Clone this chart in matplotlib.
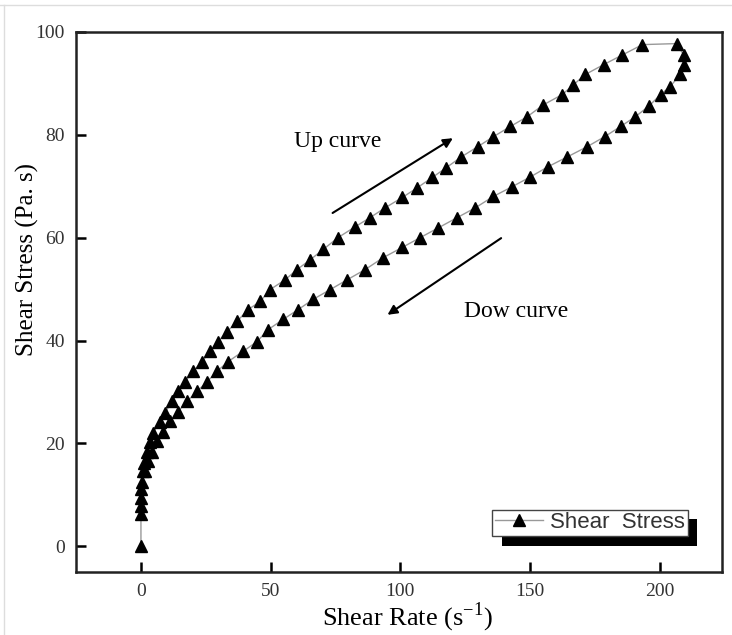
import matplotlib
matplotlib.use('Agg')
import matplotlib.pyplot as plt
import matplotlib.patheffects as pe
from matplotlib.lines import Line2D

# shear rate (1/s) and shear stress, up curve then down curve
rate = [0, 0, 0, 0, 0, 0.4, 0.8, 1.2, 2.3, 3.5, 4.6, 7.3, 9.3, 12, 14.3, 17, 20,
        23.6, 26.6, 29.7, 33.2, 37, 41.3, 46, 49.8, 55.6, 60.2, 65.3, 70.3, 76,
        82.6, 88.4, 94.2, 100.8, 106.6, 112.4, 117.8, 123.6, 130, 135.9, 142.5,
        149, 155.2, 162.5, 166.8, 171.4, 178.4, 185.7, 193.4, 206.6,
        209.3, 209.3, 208, 204, 200.4, 196, 190.7, 185, 178.8, 172.2, 164.5,
        157.1, 150.2, 143.2, 135.9, 129, 122, 114.7, 107.7, 100.8, 93.4, 86.5,
        79.5, 73, 66.4, 60.6, 54.8, 49, 44.8, 39.4, 33.6, 29.3, 25.5, 21.6,
        17.8, 14.3, 11.2, 8.5, 6.2, 4.2, 2.7, 1.5]
stress = [0, 6.2, 7.8, 9.5, 11.1, 12.6, 14.6, 16.3, 18.3, 20.2, 22.1, 24.1, 26,
          28.2, 30.1, 32, 34, 35.9, 37.9, 39.8, 41.7, 43.7, 46, 47.6, 49.9, 51.8,
          53.8, 55.7, 57.7, 60, 62.1, 63.9, 65.8, 67.8, 69.7, 71.7, 73.6, 75.7,
          77.7, 79.6, 81.6, 83.5, 85.8, 87.8, 89.7, 91.7, 93.6, 95.5, 97.5, 97.7,
          95.5, 93.6, 91.7, 89.3, 87.8, 85.6, 83.5, 81.6, 79.6, 77.7, 75.7,
          73.8, 71.8, 69.9, 68, 65.8, 63.9, 61.9, 60, 58.1, 56.1, 53.8, 51.8,
          49.9, 48, 46, 44.1, 42.1, 39.8, 37.9, 35.9, 34, 32, 30.1, 28.2, 26.2,
          24.3, 22.3, 20.4, 18.4, 16.5, 14.6]

xticks = [0, 50, 100, 150, 200]
yticks = [0, 20, 40, 60, 80, 100]

serif = ['Liberation Serif', 'DejaVu Serif']
plt.rcParams['mathtext.fontset'] = 'custom'
plt.rcParams['mathtext.rm'] = 'Liberation Serif'

fig = plt.figure(figsize=(7.32, 6.35), dpi=100)
ax = fig.add_axes([0.104, 0.099, 0.882, 0.851])

ax.plot(rate, stress, color='#999999', lw=1, marker='^', ms=8,
        mfc='black', mec='black', label='Shear  Stress')

# arrows and notes
ax.annotate('', xy=(121.2, 79.6), xytext=(73, 64.5),
            arrowprops=dict(arrowstyle='-|>', color='black', lw=1.5,
                            mutation_scale=14))
ax.annotate('', xy=(94.2, 44.7), xytext=(139.8, 60.2),
            arrowprops=dict(arrowstyle='-|>', color='black', lw=1.5,
                            mutation_scale=14))
ax.text(75.7, 78.6, 'Up curve', fontsize=17, family=serif,
        ha='center', va='center')
ax.text(144.8, 45.6, 'Dow curve', fontsize=17, family=serif,
        ha='center', va='center')

ax.set_xlim(-25, 224)
ax.set_ylim(-5, 100)
ax.set_xticks(xticks)
ax.set_yticks(yticks)
ax.tick_params(direction='in', length=7, width=1.8, labelsize=14,
               labelcolor='#333333', pad=8)
for lab in ax.get_xticklabels() + ax.get_yticklabels():
    lab.set_family(serif)
for s in ax.spines.values():
    s.set_linewidth(1.8)
    s.set_color('#222222')

ax.set_xlabel('Shear Rate (s$^{\\mathrm{-1}}$)', fontsize=19, family=serif)
ax.set_ylabel('Shear Stress (Pa. s)', fontsize=18, family=serif)
ax.xaxis.set_label_coords(0.513, -0.053)
ax.yaxis.set_label_coords(-0.058, 0.578)

leg = ax.legend(loc='lower left', bbox_to_anchor=(0.644, 0.067),
                borderaxespad=0, fancybox=False,
                handlelength=2.2, handletextpad=0.3, borderpad=0.12,
                prop={'family': ['Liberation Sans', 'DejaVu Sans'], 'size': 16})
leg.get_frame().set_edgecolor('#444444')
leg.get_frame().set_linewidth(1)
leg.get_frame().set_alpha(1)
leg.legendPatch.set_path_effects([
    pe.SimplePatchShadow(offset=(7, -7), shadow_rgbFace='black', alpha=1),
    pe.Normal()])
for t in leg.get_texts():
    t.set_color('#333333')

# thin frame of the screenshot
fig.add_artist(Line2D([0, 1], [0.992, 0.992], color='#dddddd', lw=1))
fig.add_artist(Line2D([0.006, 0.006], [0, 0.992], color='#dddddd', lw=1))

fig.savefig('out.png', dpi=100)
